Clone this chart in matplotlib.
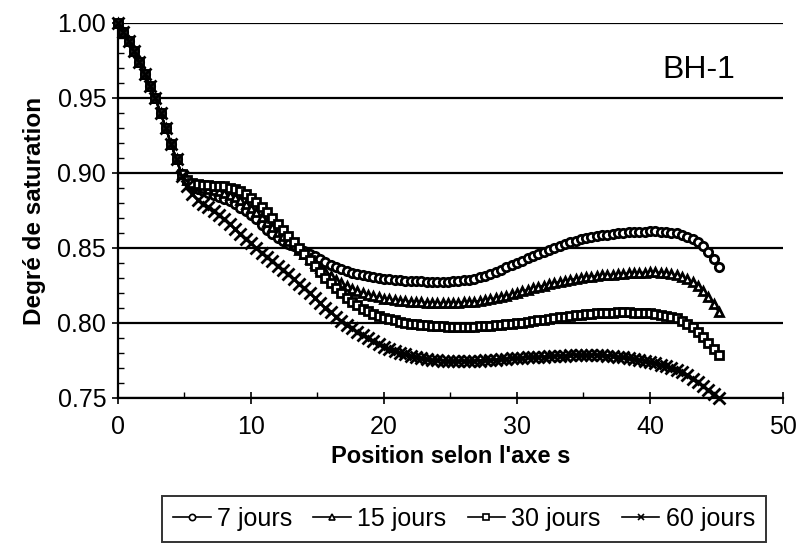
import numpy as np
import matplotlib
matplotlib.use("Agg")
import matplotlib.pyplot as plt
from matplotlib.ticker import MultipleLocator, FormatStrFormatter

plt.rcParams['font.family'] = ['Liberation Sans', 'DejaVu Sans']

# Position along the s axis (shared by every series)
position = np.round(np.arange(0, 45.2 + 1e-9, 0.4), 1)

# Common trunk near the wetted boundary (x = 0 .. 4.4)
trunk = [1.000, 0.994, 0.988, 0.981, 0.974, 0.966, 0.958, 0.950, 0.940, 0.930,
         0.919, 0.909]

sat_7 = trunk + [
    0.899, 0.8945, 0.8915, 0.889, 0.8878, 0.8866, 0.8853, 0.884, 0.8828, 0.881,
    0.879, 0.8768, 0.8745, 0.872, 0.8692, 0.865, 0.862, 0.859, 0.8565, 0.8545,
    0.8526, 0.851, 0.8494, 0.8478, 0.8462, 0.8444, 0.8425, 0.8406, 0.8388, 0.8372,
    0.8358, 0.8346, 0.8335, 0.8326, 0.8318, 0.8311, 0.8305, 0.830, 0.8296, 0.8292,
    0.8289, 0.8286, 0.8283, 0.8281, 0.8279, 0.8277, 0.8276, 0.8275, 0.8275, 0.8275,
    0.8276, 0.8278, 0.828, 0.8284, 0.8289, 0.8296, 0.8305, 0.8316, 0.8328, 0.8341,
    0.8355, 0.837, 0.8385, 0.840, 0.8415, 0.843, 0.8445, 0.846, 0.8475, 0.8489,
    0.8502, 0.8515, 0.8527, 0.8538, 0.8548, 0.8557, 0.8565, 0.8572, 0.8578, 0.8584,
    0.8589, 0.8594, 0.8598, 0.8601, 0.8604, 0.8606, 0.8608, 0.8609, 0.861, 0.861,
    0.8609, 0.8607, 0.8603, 0.8597, 0.8588, 0.8576, 0.8559, 0.8537, 0.851, 0.8474,
    0.8428, 0.837]

sat_15 = trunk + [
    0.899, 0.895, 0.8925, 0.891, 0.8902, 0.8895, 0.8887, 0.8878, 0.8868, 0.8855,
    0.8838, 0.8818, 0.8795, 0.8768, 0.8738, 0.8706, 0.8673, 0.864, 0.8608, 0.8577,
    0.8547, 0.8517, 0.8488, 0.8458, 0.8428, 0.8398, 0.8368, 0.834, 0.8313, 0.8288,
    0.8265, 0.8245, 0.8227, 0.8212, 0.8199, 0.8188, 0.8178, 0.817, 0.8163, 0.8157,
    0.8152, 0.8148, 0.8145, 0.8142, 0.814, 0.8138, 0.8136, 0.8135, 0.8134, 0.8134,
    0.8134, 0.8135, 0.8136, 0.8138, 0.814, 0.8143, 0.8147, 0.8152, 0.8158, 0.8165,
    0.8173, 0.8182, 0.8191, 0.8201, 0.8211, 0.8221, 0.8231, 0.824, 0.8249, 0.8258,
    0.8266, 0.8274, 0.8281, 0.8288, 0.8294, 0.8299, 0.8304, 0.8309, 0.8313, 0.8317,
    0.832, 0.8323, 0.8326, 0.8329, 0.8331, 0.8333, 0.8335, 0.8336, 0.8337, 0.8337,
    0.8336, 0.8334, 0.8327, 0.8318, 0.8305, 0.829, 0.827, 0.8245, 0.8215, 0.8175,
    0.8125, 0.807]

sat_30 = trunk + [
    0.899, 0.8955, 0.8935, 0.8925, 0.892, 0.8917, 0.8915, 0.8913, 0.891, 0.8903,
    0.8893, 0.8878, 0.8858, 0.8835, 0.8805, 0.8772, 0.8737, 0.8698, 0.866, 0.862,
    0.858, 0.854, 0.8498, 0.8458, 0.8418, 0.8378, 0.8338, 0.830, 0.8264, 0.823,
    0.8198, 0.8168, 0.8141, 0.8117, 0.8096, 0.8078, 0.8062, 0.8048, 0.8036, 0.8026,
    0.8017, 0.8009, 0.8002, 0.7996, 0.7991, 0.7987, 0.7984, 0.7981, 0.7979, 0.7977,
    0.7976, 0.7975, 0.7975, 0.7975, 0.7975, 0.7976, 0.7977, 0.7979, 0.7981, 0.7984,
    0.7987, 0.799, 0.7994, 0.7998, 0.8002, 0.8007, 0.8012, 0.8017, 0.8022, 0.8027,
    0.8032, 0.8037, 0.8042, 0.8046, 0.805, 0.8054, 0.8058, 0.8061, 0.8064, 0.8066,
    0.8068, 0.8069, 0.807, 0.807, 0.807, 0.8069, 0.8068, 0.8066, 0.8064, 0.806,
    0.8055, 0.8048, 0.804, 0.803, 0.8015, 0.7995, 0.797, 0.794, 0.7905, 0.7865,
    0.7825, 0.7785]

sat_60 = trunk + [
    0.898, 0.891, 0.886, 0.882, 0.8795, 0.877, 0.8746, 0.872, 0.869, 0.866,
    0.8626, 0.8595, 0.8562, 0.853, 0.850, 0.8466, 0.8438, 0.841, 0.838, 0.835,
    0.8324, 0.8294, 0.8262, 0.823, 0.820, 0.8166, 0.8134, 0.810, 0.807, 0.804,
    0.8014, 0.7988, 0.7964, 0.794, 0.792, 0.790, 0.788, 0.786, 0.784, 0.7826,
    0.7814, 0.7802, 0.779, 0.778, 0.7772, 0.7764, 0.7757, 0.7753, 0.775, 0.7749,
    0.7748, 0.7747, 0.7746, 0.7745, 0.7746, 0.7747, 0.7748, 0.775, 0.7752, 0.7755,
    0.7758, 0.7761, 0.7764, 0.7766, 0.7768, 0.777, 0.7771, 0.7773, 0.7775, 0.7777,
    0.7779, 0.7781, 0.7783, 0.7785, 0.7786, 0.7787, 0.7787, 0.7787, 0.7787, 0.7785,
    0.7782, 0.7778, 0.7774, 0.777, 0.7765, 0.7759, 0.7752, 0.7746, 0.774, 0.7731,
    0.7722, 0.7711, 0.7699, 0.7687, 0.767, 0.765, 0.7628, 0.7605, 0.758, 0.7553,
    0.7525, 0.7497]

series_labels = ["7 jours", "15 jours", "30 jours", "60 jours"]
series_values = [sat_7, sat_15, sat_30, sat_60]
series_markers = ["o", "^", "s", "x"]

fig = plt.figure(figsize=(8.01, 5.54), dpi=100)
ax = fig.add_axes([0.1473, 0.2816, 0.8302, 0.6769])

handles = []
for label, vals, mk in zip(series_labels, series_values, series_markers):
    if mk == "x":
        h, = ax.plot(position, vals, color="black", lw=1.6, marker=mk, ms=8,
                     mew=2.0, label=label, clip_on=False, zorder=3)
    else:
        h, = ax.plot(position, vals, color="black", lw=1.6, marker=mk, ms=6,
                     mew=2.0, mfc="white", mec="black", label=label,
                     clip_on=False, zorder=3)
    handles.append(h)

ax.set_xlim(0, 50)
ax.set_ylim(0.75, 1.00)
ax.xaxis.set_major_locator(MultipleLocator(10))
ax.xaxis.set_minor_locator(MultipleLocator(5))
ax.yaxis.set_major_locator(MultipleLocator(0.05))
ax.yaxis.set_minor_locator(MultipleLocator(0.01))
ax.yaxis.set_major_formatter(FormatStrFormatter("%.2f"))

ax.yaxis.grid(True, which="major", color="black", lw=1.6)
ax.set_axisbelow(True)
for side in ("top", "right"):
    ax.spines[side].set_visible(False)
for side in ("left", "bottom"):
    ax.spines[side].set_linewidth(1.6)

ax.tick_params(axis="both", which="major", direction="inout", length=9,
               width=1.2, labelsize=18, colors="black")
ax.tick_params(axis="both", which="minor", direction="in", length=4, width=1.0)
ax.tick_params(axis="y", which="major", pad=4)
ax.tick_params(axis="x", which="major", pad=8)

ax.set_xlabel("Position selon l'axe s", fontsize=17, fontweight="bold",
              labelpad=4)
ax.set_ylabel("Degré de saturation", fontsize=17.5, fontweight="bold",
              labelpad=8)

ax.text(0.873, 0.875, "BH-1", transform=ax.transAxes, fontsize=23,
        ha="center", va="center")

leg = fig.legend(handles=handles, loc="center",
                 bbox_to_anchor=(0.5793, 0.0632), ncol=4,
                 fontsize=18, frameon=True, fancybox=False, edgecolor="black",
                 handlelength=1.5, handletextpad=0.25, columnspacing=0.85,
                 borderpad=0.45, borderaxespad=0.0)
leg.get_frame().set_linewidth(1.4)
# lighter symbols in the key
for lh in leg.legend_handles:
    lh.set_linewidth(1.2)
    lh.set_markersize(4.5)
    lh.set_markeredgewidth(1.2)

fig.savefig("out.png", dpi=100, facecolor="white")
